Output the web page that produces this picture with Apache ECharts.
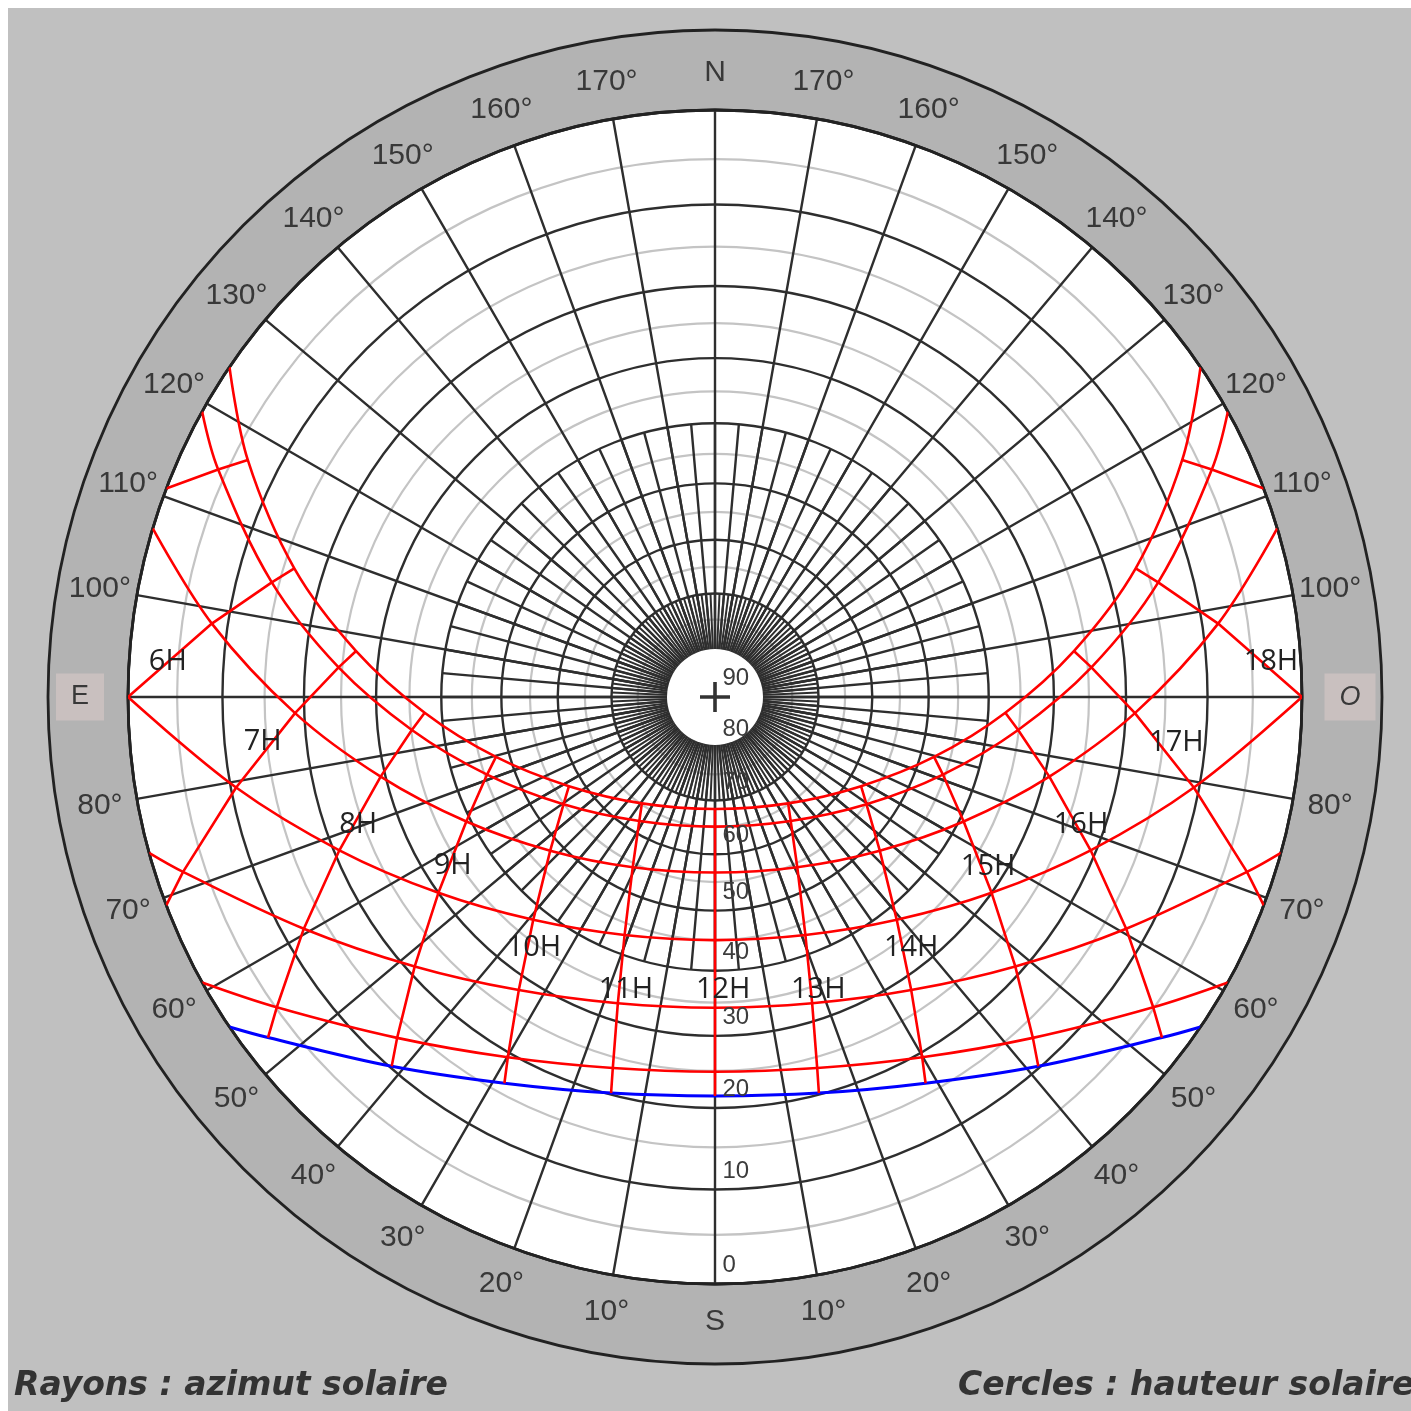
<!DOCTYPE html>
<html>
<head>
<meta charset="utf-8">
<script src="https://cdn.jsdelivr.net/npm/echarts@6/dist/echarts.min.js"></script>
<style>
  html, body { margin: 0; padding: 0; background: #ffffff; }
  #chart { position: absolute; left: 8px; top: 8px; width: 1403px; height: 1403px; }
</style>
</head>
<body>
<div id="chart"></div>
<script>
// ---------- data (azimuth from South, E = 90, N = 180, O = 270 ; altitude in degrees) ----------
const hours = [5, 6, 7, 8, 9, 10, 11, 12, 13, 14, 15, 16, 17, 18, 19];

// sun positions [azimuth, altitude] per hour (null = below horizon)
const sunJun = [[116.9,6.5],[107.0,16.3],[97.3,26.7],[86.9,37.3],[74.7,47.7],[58.6,57.5],[34.5,65.2],[0,68.4],[325.5,65.2],[301.4,57.5],[285.3,47.7],[273.1,37.3],[262.7,26.7],[253.0,16.3],[243.1,6.5]];
const sunMay = [[114.6,4.1],[104.5,14.1],[94.5,24.5],[83.8,35.1],[71.2,45.4],[54.7,54.9],[31.4,62.2],[0,65.1],[328.6,62.2],[305.3,54.9],[288.8,45.4],[276.2,35.1],[265.5,24.5],[255.5,14.1],[245.4,4.1]];
const sunApr = [null,[98.3,8.2],[87.8,18.8],[76.6,29.3],[63.4,39.3],[47.0,48.0],[25.8,54.3],[0,56.7],[334.2,54.3],[313.0,48.0],[296.6,39.3],[283.4,29.3],[272.2,18.8],[261.7,8.2],null];
const sunMar = [null,[90.0,0.0],[79.3,10.6],[67.8,20.7],[54.7,30.0],[39.2,37.8],[20.8,43.1],[0,45.0],[339.2,43.1],[320.8,37.8],[305.3,30.0],[292.2,20.7],[280.7,10.6],[270.0,0.0],null];
const sunFeb = [null,null,[71.8,2.7],[60.6,12.4],[48.1,21.0],[33.8,28.0],[17.6,32.6],[0,34.2],[342.4,32.6],[326.2,28.0],[311.9,21.0],[299.4,12.4],[288.2,2.7],null,null];
const sunJan = [null,null,null,[54.7,5.1],[43.0,13.1],[29.9,19.4],[15.4,23.5],[0,24.9],[344.6,23.5],[330.1,19.4],[317.0,13.1],[305.3,5.1],null,null,null];
const sunDec = [null,null,null,[52.7,2.5],[41.2,10.2],[28.6,16.3],[14.7,20.2],[0,21.6],[345.3,20.2],[331.4,16.3],[318.8,10.2],[307.3,2.5],null,null,null];

// sunrise / sunset azimuths (altitude 0), same order Jun..Dec
const riseAz = [124.2, 119.1, 106.7, 90.0, 74.6, 60.9, 55.8];
const setAz  = [235.8, 240.9, 253.3, 270.0, 285.4, 299.1, 304.2];
// where each hour line meets the horizon (null = ends on the lowest curve)
const hourHorizonAz = [110.8, null, 69.2, null, null, null, null, null, null, null, null, null, 290.8, null, 249.2];

// hour labels
const hourLabels   = ['6H','7H','8H','9H','10H','11H','12H','13H','14H','15H','16H','17H','18H'];
const hourLabelAz  = [93.7, 84.3, 70.3, 57.2, 35.8, 16.9, 358.4, 340.6, 322.0, 301.8, 289.3, 275.6, 266.4];
const hourLabelAlt = [3.9, 14.5, 24.3, 34.0, 34.4, 34.9, 36.9, 34.2, 33.0, 32.6, 23.1, 13.4, 3.0];

// grid
const altBlack  = [0, 10, 20, 30, 40, 50, 60, 70];
const altGray   = [5, 15, 25, 35, 45, 55, 65, 75];
const altLabels = [0, 10, 20, 30, 40, 50, 60, 70, 80, 90];
const ringAz    = [0,10,20,30,40,50,60,70,80,90,100,110,120,130,140,150,160,170,180,190,200,210,220,230,240,250,260,270,280,290,300,310,320,330,340,350];

// ---------- projection (stereographic) ----------
function proj(alt) { return Math.tan((90 - alt) / 2 * Math.PI / 180); }
function pt(p) { return [proj(p[1]), p[0]]; }

const C = [707, 689];
const R = 587, RING = 667;

const dates = [sunJun, sunMay, sunApr, sunMar, sunFeb, sunJan, sunDec];
const RED = '#ff0000', BLUE = '#0000ff', GRID = '#2e2e2e';

function angleBase(extra) {
  return Object.assign({
    type: 'value', min: 0, max: 360, startAngle: 270, clockwise: true,
    axisLabel: { show: false }, axisTick: { show: false },
    axisLine: { show: false }, splitLine: { show: false }
  }, extra);
}
function radiusBase(extra) {
  return Object.assign({
    type: 'value', min: 0, max: 1, interval: 1,
    axisLabel: { show: false }, axisTick: { show: false },
    axisLine: { show: false }, splitLine: { show: false }
  }, extra);
}

const series = [];

// day curves
dates.forEach(function (d, i) {
  const data = [[1, riseAz[i]]];
  d.forEach(function (p) { if (p) data.push(pt(p)); });
  data.push([1, setAz[i]]);
  series.push({
    type: 'line', coordinateSystem: 'polar', polarIndex: 0,
    data: data, smooth: 0.35, symbol: 'none', silent: true, z: 5,
    lineStyle: { color: i === 6 ? BLUE : RED, width: i === 6 ? 3 : 2.6 }
  });
});

// hour lines
hours.forEach(function (h, k) {
  const data = [];
  dates.forEach(function (d) { if (d[k]) data.push(pt(d[k])); });
  if (hourHorizonAz[k] !== null) data.push([1, hourHorizonAz[k]]);
  series.push({
    type: 'line', coordinateSystem: 'polar', polarIndex: 0,
    data: data, smooth: false, symbol: 'none', silent: true, z: 5,
    lineStyle: { color: RED, width: 2.6 }
  });
});

const hidden = { color: 'rgba(0,0,0,0)', opacity: 1 };

// centre white disc and cross
series.push({
  type: 'scatter', coordinateSystem: 'polar', polarIndex: 0, silent: true, z: 7,
  data: [[0, 0]], symbol: 'circle', symbolSize: 96,
  itemStyle: { color: '#ffffff', opacity: 1 }
});
series.push({
  type: 'scatter', coordinateSystem: 'polar', polarIndex: 0, silent: true, z: 8,
  data: [[0, 0]], symbol: 'path://M0,4.4h10v1.2h-10z M4.4,0h1.2v10h-1.2z', symbolSize: 30,
  itemStyle: { color: '#333333', opacity: 1 }
});

// altitude labels along the South ray
series.push({
  type: 'scatter', coordinateSystem: 'polar', polarIndex: 0, silent: true, z: 9, clip: false,
  data: altLabels.map(function (a) { return [proj(a), 0]; }),
  symbolSize: 1, itemStyle: hidden,
  label: {
    show: true, position: [8, -30], opacity: 1,
    formatter: function (p) { return String(altLabels[p.dataIndex]); },
    fontFamily: 'Liberation Sans', fontSize: 24, color: '#3c3c3c'
  }
});

// hour labels
series.push({
  type: 'scatter', coordinateSystem: 'polar', polarIndex: 0, silent: true, z: 9, clip: false,
  data: hourLabelAz.map(function (a, i) { return [proj(hourLabelAlt[i]), a]; }),
  symbolSize: 1, itemStyle: hidden,
  label: {
    show: true, position: 'inside', opacity: 1,
    formatter: function (p) { return hourLabels[p.dataIndex]; },
    fontFamily: 'Open Sans', fontSize: 29, color: '#222222'
  }
});

// ring labels
function ringText(a) {
  if (a === 0) return 'S';
  if (a === 90) return 'E';
  if (a === 180) return 'N';
  if (a === 270) return 'O';
  return (a < 180 ? a : 360 - a) + '°';
}
series.push({
  type: 'scatter', coordinateSystem: 'polar', polarIndex: 1, silent: true, z: 9, clip: false,
  data: ringAz.map(function (a) {
    const item = { value: [0.47, a] };
    if (a === 90 || a === 270) {
      item.value = [0.6, a];
      item.label = { backgroundColor: '#c9c0bf', padding: [11, 15, 9, 15], fontSize: 27,
                     fontStyle: a === 270 ? 'italic' : 'normal' };
    }
    return item;
  }),
  symbolSize: 1, itemStyle: hidden,
  label: {
    show: true, position: 'inside', opacity: 1,
    formatter: function (p) { return ringText(ringAz[p.dataIndex]); },
    fontFamily: 'Liberation Sans', fontSize: 30, color: '#383838'
  }
});

const captionStyle = { fontFamily: 'DejaVu Sans', fontSize: 33, fontWeight: 'bold', fontStyle: 'italic', color: '#333333' };
const option = {
  backgroundColor: '#c0c0c0',
  animation: false,
  title: [
    { text: 'Rayons : azimut solaire', left: 6, top: 1362, padding: 0, textStyle: captionStyle },
    { text: 'Cercles : hauteur solaire', left: 950, top: 1362, padding: 0, textStyle: captionStyle }
  ],
  polar: [
    { center: C, radius: R },
    { center: C, radius: [R, RING] },
    { center: C, radius: proj(40) * R },
    { center: C, radius: proj(70) * R },
    { center: C, radius: R },
    { center: C, radius: R }
  ],
  angleAxis: [
    angleBase({ polarIndex: 0, interval: 10, z: 3,
      splitLine: { show: true, lineStyle: { color: GRID, width: 2.4 } },
      axisLine: { show: true, lineStyle: { color: '#3a3a3a', width: 2.8 } } }),
    angleBase({ polarIndex: 1, interval: 10, z: 3,
      axisLine: { show: true, lineStyle: { color: '#222222', width: 2.8 } } }),
    angleBase({ polarIndex: 2, interval: 5, z: 3,
      splitLine: { show: true, lineStyle: { color: GRID, width: 2.4 } } }),
    angleBase({ polarIndex: 3, interval: 2.5, z: 3,
      splitLine: { show: true, lineStyle: { color: GRID, width: 2 } } }),
    angleBase({ polarIndex: 4, interval: 10 }),
    angleBase({ polarIndex: 5, interval: 10 })
  ],
  radiusAxis: [
    radiusBase({ polarIndex: 0, z: 0, splitArea: { show: true, areaStyle: { color: ['#ffffff'] } } }),
    radiusBase({ polarIndex: 1, z: 0, splitArea: { show: true, areaStyle: { color: ['#b3b3b3'] } } }),
    radiusBase({ polarIndex: 2 }),
    radiusBase({ polarIndex: 3 }),
    radiusBase({ polarIndex: 4, z: 1,
      axisTick: { show: false, customValues: altGray.map(proj).sort(function (a, b) { return a - b; }) },
      splitLine: { show: true, lineStyle: { color: '#c4c4c4', width: 2.2 } } }),
    radiusBase({ polarIndex: 5, z: 2,
      axisTick: { show: false, customValues: altBlack.map(proj).sort(function (a, b) { return a - b; }) },
      splitLine: { show: true, lineStyle: { color: GRID, width: 2.4 } } })
  ],
  series: series
};

const chart = echarts.init(document.getElementById('chart'), null, { renderer: 'canvas' });
chart.setOption(option);
</script>
</body>
</html>
